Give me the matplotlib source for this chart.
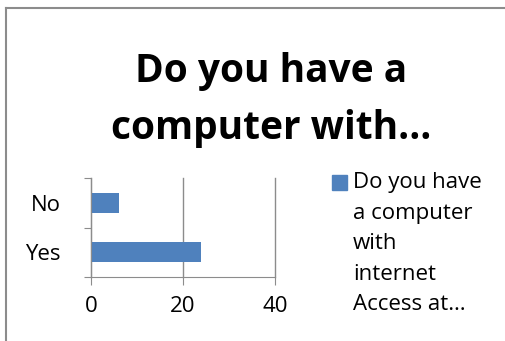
import matplotlib.pyplot as plt
from matplotlib.lines import Line2D
from matplotlib.patches import Rectangle

categories = ['Yes', 'No']
values = [24, 6]
x_ticks = [0, 20, 40]
title_text = 'Do you have a\ncomputer with\u2026'
legend_text = 'Do you have\na computer\nwith\ninternet\nAccess at\u2026'

W, H = 505, 341
fig = plt.figure(figsize=(W / 100, H / 100), dpi=100)
plt.rcParams['font.family'] = ['Open Sans', 'DejaVu Sans']

# outer chart border (runs off the right and bottom edges)
border = '#8c8c8c'
fig.lines.append(Line2D([5.5 / W, 5.5 / W], [0, 1 - 7.5 / H], transform=fig.transFigure,
                        color=border, linewidth=1.5))
fig.lines.append(Line2D([5.5 / W, 1], [1 - 7.5 / H, 1 - 7.5 / H], transform=fig.transFigure,
                        color=border, linewidth=1.5))

ax = fig.add_axes([91 / W, 1 - 277 / H, (275 - 91) / W, (277 - 178) / H])
ax.barh([0, 1], values, height=0.4, color='#4f81bd')
ax.set_xlim(0, 40)
ax.set_ylim(-0.5, 1.5)
ax.set_xticks(x_ticks)
ax.set_xticklabels([str(t) for t in x_ticks], fontsize=16)
ax.set_yticks([-0.5, 0.5, 1.5], minor=False)
ax.set_yticklabels([])
ax.set_yticks([0, 1], minor=True)
ax.set_yticklabels(categories, minor=True, fontsize=16)
ax.tick_params(axis='y', which='minor', length=0, pad=22)
ax.tick_params(axis='y', which='major', length=5, color=border)
ax.tick_params(axis='x', length=6, color=border, pad=8)
ax.grid(axis='x', color=border, linewidth=1)
for gl in ax.get_xgridlines():
    gl.set_clip_on(False)
ax.set_axisbelow(True)
for s in ['top', 'right']:
    ax.spines[s].set_visible(False)
for s in ['left', 'bottom']:
    ax.spines[s].set_color(border)

fig.text(271 / W, 1 - 100 / H, title_text, ha='center', va='center',
         fontsize=28, fontweight='bold', linespacing=1.6)

fig.patches.append(Rectangle((332 / W, 1 - 190 / H), 15 / W, 15 / H,
                             transform=fig.transFigure, color='#4f81bd'))
fig.text(353 / W, 1 - 172 / H, legend_text, ha='left', va='top',
         fontsize=16, linespacing=1.6)

fig.savefig('out.png', dpi=100)
